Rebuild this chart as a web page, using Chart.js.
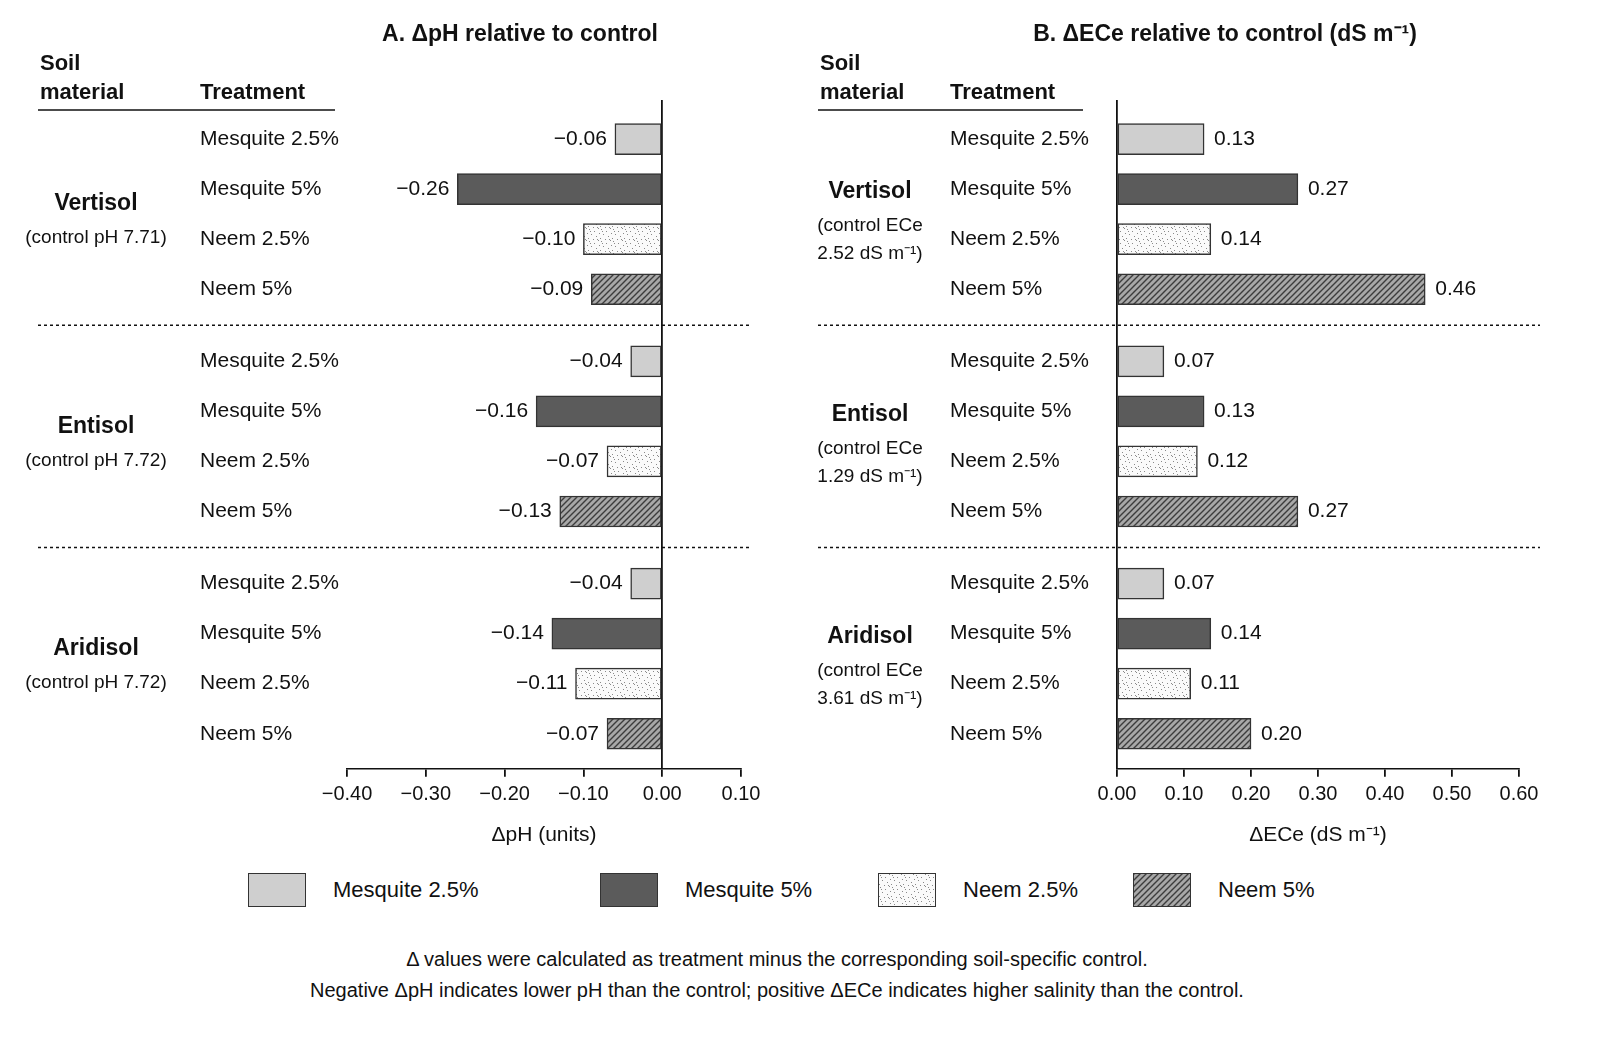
<!DOCTYPE html>
<html><head><meta charset="utf-8">
<script src="https://cdn.jsdelivr.net/npm/chart.js@4"></script>
<style>
body{margin:0;background:#fff;font-family:"Liberation Sans",Arial,sans-serif;color:#111}
#page{position:relative;width:1599px;height:1046px}
canvas.ch{position:absolute;top:0}
.leg{position:absolute;top:873px;font-size:22px}
.leg canvas{position:absolute;top:0;border:1.5px solid #333}
.leg span{position:absolute;top:4px;white-space:nowrap}
#note{position:absolute;top:944px;left:0;width:1554px;text-align:center;font-size:20px;line-height:31px}
</style></head><body>
<div id="page">
<canvas id="cA" class="ch" width="790" height="860" style="left:0"></canvas>
<canvas id="cB" class="ch" width="809" height="860" style="left:790px"></canvas>
<div id="legend"></div>
<div id="note">Δ values were calculated as treatment minus the corresponding soil-specific control.<br>Negative ΔpH indicates lower pH than the control; positive ΔECe indicates higher salinity than the control.</div>
</div>
<script>
// data
let treatments = ["Mesquite 2.5%", "Mesquite 5%", "Neem 2.5%", "Neem 5%"];
let soils = ["Vertisol", "Entisol", "Aridisol"];
let soilNotesA = [["(control pH 7.71)"], ["(control pH 7.72)"], ["(control pH 7.72)"]];
let soilNotesB = [["(control ECe", "2.52 dS m⁻¹)"], ["(control ECe", "1.29 dS m⁻¹)"], ["(control ECe", "3.61 dS m⁻¹)"]];
let dPH = [[-0.06, -0.26, -0.10, -0.09], [-0.04, -0.16, -0.07, -0.13], [-0.04, -0.14, -0.11, -0.07]];
let dECe = [[0.13, 0.27, 0.14, 0.46], [0.07, 0.13, 0.12, 0.27], [0.07, 0.14, 0.11, 0.20]];
let ticksA = [-0.40, -0.30, -0.20, -0.10, 0.00, 0.10];
let ticksB = [0.00, 0.10, 0.20, 0.30, 0.40, 0.50, 0.60];

const GROUP_GAP = 0.44;
const FONT = '"Liberation Sans", Arial, sans-serif';

function makePattern(kind){
  let c = document.createElement("canvas");
  let ctx = c.getContext("2d");
  if(kind == 0){ c.width = c.height = 4; ctx.fillStyle = "#cfcfcf"; ctx.fillRect(0,0,4,4); }
  else if(kind == 1){ c.width = c.height = 4; ctx.fillStyle = "#5b5b5b"; ctx.fillRect(0,0,4,4); }
  else if(kind == 2){
    c.width = c.height = 12; ctx.fillStyle = "#fafafa"; ctx.fillRect(0,0,12,12);
    ctx.fillStyle = "#8a8a8a";
    [[1,1],[6,3],[10,0],[3,6],[8,8],[0,10],[5,11],[11,5],[2,3],[9,11]].forEach(p => ctx.fillRect(p[0],p[1],1,1));
  } else {
    c.width = c.height = 6; ctx.fillStyle = "#a8a8a8"; ctx.fillRect(0,0,6,6);
    ctx.strokeStyle = "#3d3d3d"; ctx.lineWidth = 1.4;
    ctx.beginPath(); ctx.moveTo(-1,7); ctx.lineTo(7,-1); ctx.moveTo(-1,1); ctx.lineTo(1,-1); ctx.moveTo(5,7); ctx.lineTo(7,5); ctx.stroke();
  }
  return c;
}
let patternCanvases = [0,1,2,3].map(makePattern);

function fmt(v){
  let s = Math.abs(v).toFixed(2);
  return (v < 0 ? "−" : "") + s;
}

function buildPanel(id, values, ticks, xmin, xmax, xTitle, title, notes, geo){
  let ctx0 = document.getElementById(id).getContext("2d");
  let pats = patternCanvases.map(c => ctx0.createPattern(c, "repeat"));
  let pts = [], cols = [];
  for(let g = 0; g < values.length; g++){
    for(let i = 0; i < values[g].length; i++){
      pts.push({x: values[g][i], y: g * (4 + GROUP_GAP) + i});
      cols.push(pats[i]);
    }
  }
  let last = (values.length - 1) * (4 + GROUP_GAP) + 3;
  let textPlugin = {
    id: "panelText",
    afterDraw(chart){
      let c = chart.ctx, ys = chart.scales.y;
      c.save();
      c.fillStyle = "#111";
      c.font = "bold 23px " + FONT; c.textAlign = "center"; c.textBaseline = "middle";
      c.fillText(title, geo.titleX, 35);
      c.font = "bold 22px " + FONT; c.textAlign = "left";
      c.fillText("Soil", geo.soilX, 64);
      c.fillText("material", geo.soilX, 93);
      c.fillText("Treatment", geo.treatX, 93);
      c.strokeStyle = "#111"; c.lineWidth = 1.5;
      c.beginPath(); c.moveTo(geo.soilX - 2, 110); c.lineTo(geo.lineEnd, 110); c.stroke();
      for(let g = 0; g < values.length; g++){
        let base = g * (4 + GROUP_GAP);
        c.font = "21px " + FONT; c.textAlign = "left";
        for(let i = 0; i < 4; i++){
          c.fillText(treatments[i], geo.treatX, ys.getPixelForValue(base + i));
        }
        let mid = ys.getPixelForValue(base + 1.5);
        let nl = notes[g].length;
        let top = mid - 10 - (nl - 1) * 12;
        c.textAlign = "center";
        c.font = "bold 23px " + FONT;
        c.fillText(soils[g], geo.soilC, top);
        c.font = "19px " + FONT;
        for(let k = 0; k < nl; k++) c.fillText(notes[g][k], geo.soilC, top + 34 + k * 28);
        if(g > 0){
          let yy = ys.getPixelForValue(base - GROUP_GAP / 2 - 0.5);
          c.setLineDash([3, 3]); c.lineWidth = 1.5;
          c.beginPath(); c.moveTo(geo.soilX - 2, yy); c.lineTo(geo.dotEnd, yy); c.stroke();
          c.setLineDash([]);
        }
      }
      c.font = "21px " + FONT;
      let meta = chart.getDatasetMeta(0);
      meta.data.forEach((bar, k) => {
        let v = pts[k].x;
        if(v < 0){ c.textAlign = "right"; c.fillText(fmt(v), bar.x - 8, bar.y); }
        else { c.textAlign = "left"; c.fillText(fmt(v), bar.x + 10, bar.y); }
      });
      c.restore();
    }
  };
  return new Chart(ctx0, {
    type: "bar",
    data: { datasets: [{ data: pts, backgroundColor: cols, borderColor: "#333", borderWidth: 1.5, borderSkipped: false, barThickness: 31 }] },
    plugins: [textPlugin],
    options: {
      responsive: false, animation: false, indexAxis: "y",
      layout: { padding: { left: geo.padL, right: geo.padR, top: 100, bottom: 8 } },
      plugins: { legend: { display: false }, tooltip: { enabled: false } },
      scales: {
        y: { type: "linear", reverse: true, offset: false, min: -0.78, max: last + 0.7, display: false },
        x: {
          type: "linear", min: xmin, max: xmax,
          afterBuildTicks: ax => { ax.ticks = ticks.map(v => ({value: v})); },
          border: { display: true, color: "#111", width: 1.5 },
          grid: { color: ctx => Math.abs(ctx.tick && ctx.tick.value) < 1e-9 ? "#111" : "rgba(0,0,0,0)", lineWidth: 1.8, tickColor: "#111", tickLength: 8, drawTicks: true },
          ticks: { color: "#111", font: { size: 20, family: FONT }, padding: 6, callback: v => fmt(v) },
          title: { display: true, text: xTitle, color: "#111", font: { size: 21, family: FONT }, padding: { top: 10 } }
        }
      }
    }
  });
}

buildPanel("cA", dPH, ticksA, -0.40, 0.10, "ΔpH (units)", "A. ΔpH relative to control", soilNotesA,
  { titleX: 520, soilX: 40, soilC: 96, treatX: 200, lineEnd: 335, dotEnd: 752, padL: 347, padR: 49 });
buildPanel("cB", dECe, ticksB, 0.00, 0.60, "ΔECe (dS m⁻¹)", "B. ΔECe relative to control (dS m⁻¹)", soilNotesB,
  { titleX: 435, soilX: 30, soilC: 80, treatX: 160, lineEnd: 293, dotEnd: 750, padL: 327, padR: 80 });

// legend
let lg = document.getElementById("legend");
let legX = [248, 600, 878, 1133];
treatments.forEach((t, i) => {
  let d = document.createElement("div");
  d.className = "leg"; d.style.left = legX[i] + "px";
  let cv = document.createElement("canvas"); cv.width = 56; cv.height = 32;
  let cx = cv.getContext("2d"); cx.fillStyle = cx.createPattern(patternCanvases[i], "repeat"); cx.fillRect(0,0,56,32);
  d.appendChild(cv);
  let s = document.createElement("span"); s.textContent = t; s.style.left = "85px";
  d.appendChild(s);
  lg.appendChild(d);
});
</script>
</body></html>
